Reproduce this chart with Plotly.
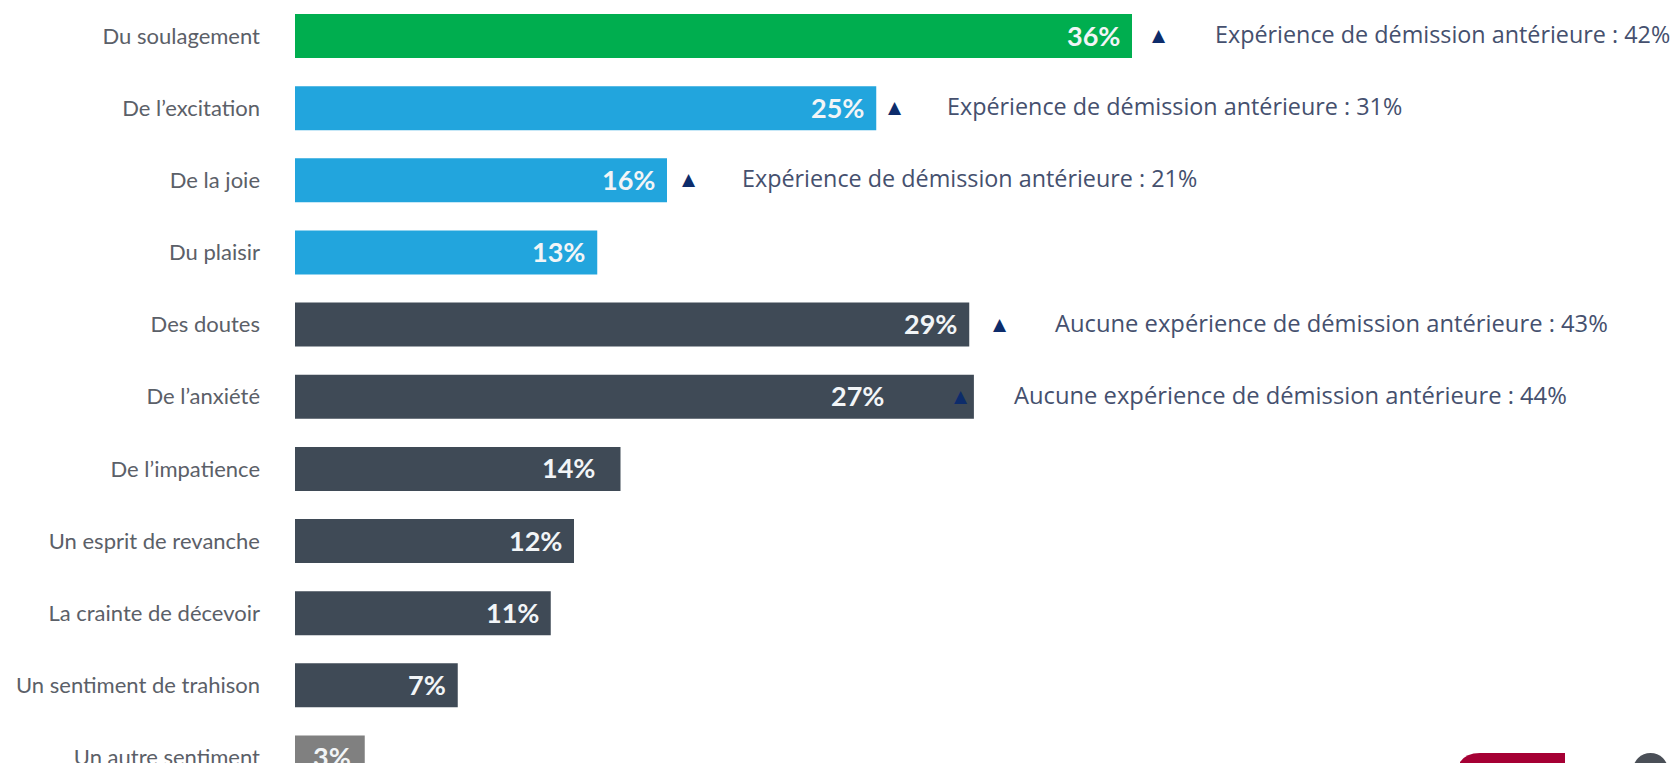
import plotly.graph_objects as go

categories = ["Du soulagement", "De l’excitation", "De la joie", "Du plaisir", "Des doutes",
              "De l’anxiété", "De l’impatience", "Un esprit de revanche", "La crainte de décevoir",
              "Un sentiment de trahison", "Un autre sentiment"]
shares = [36, 25, 16, 13, 29, 27, 14, 12, 11, 7, 3]
# The 27% bar is drawn longer than its label in the reference.
drawn_lengths = [36, 25, 16, 13, 29, 29.2, 14, 12, 11, 7, 3]
bar_colors = ["#00ae4f"] + ["#22a5dd"] * 3 + ["#3f4a56"] * 6 + ["#808080"]

note_rows = ["Du soulagement", "De l’excitation", "De la joie", "Des doutes", "De l’anxiété"]
note_texts = ["Expérience de démission antérieure : 42%",
              "Expérience de démission antérieure : 31%",
              "Expérience de démission antérieure : 21%",
              "Aucune expérience de démission antérieure : 43%",
              "Aucune expérience de démission antérieure : 44%"]
triangle_shift = [27, 19, 22, 31, -13]
note_shift = [81, 69, 73, 84, 38]
note_size = [23.35, 23.35, 23.35, 23.75, 23.75]
label_pad = {"De l’anxiété": 88, "De l’impatience": 24, "Un autre sentiment": 12}

PX_PER_UNIT = 23.25
LEFT = 295
W, H = 1674, 763
ROW = 72.15
TOP = 36


def px(x):
    return (x - LEFT) / (W - LEFT)


def py(y):
    return 1 - y / H


fig = go.Figure(go.Bar(
    x=drawn_lengths, y=categories, orientation="h", width=0.61,
    marker=dict(color=bar_colors, line_width=0), hoverinfo="skip",
))

annotations = []
for cat, share, length in zip(categories, shares, drawn_lengths):
    annotations.append(dict(
        x=length, y=cat, xref="x", yref="y", text=f"<b>{share}%</b>", showarrow=False,
        xanchor="right", xshift=-label_pad.get(cat, 10), yshift=1,
        font=dict(family="Lato", size=27, color="#f2f5f7"),
    ))
for cat, txt, ts, ns, fs in zip(note_rows, note_texts, triangle_shift, note_shift, note_size):
    length = drawn_lengths[categories.index(cat)]
    annotations.append(dict(
        x=length, y=cat, xref="x", yref="y", text="▲", showarrow=False,
        xanchor="center", xshift=ts, yshift=1,
        font=dict(family="DejaVu Sans", size=17, color="#0d2c6b"),
    ))
    annotations.append(dict(
        x=length, y=cat, xref="x", yref="y", text=txt, showarrow=False,
        xanchor="left", xshift=ns, yshift=2,
        font=dict(family="Open Sans", size=fs, color="#45506e"),
    ))

shapes = [
    dict(type="path", xref="paper", yref="paper", line_width=0, fillcolor="#a50034",
         path=f"M {px(1460)} {py(770)} L {px(1460)} {py(762)} Q {px(1466)} {py(753)} {px(1480)} {py(753)} "
              f"L {px(1565)} {py(753)} L {px(1565)} {py(770)} Z"),
    dict(type="circle", xref="paper", yref="paper", line_width=0, fillcolor="#4a4f57",
         x0=px(1633), x1=px(1668), y0=py(787), y1=py(753)),
]

fig.update_layout(
    width=W, height=H, margin=dict(l=LEFT, r=0, t=0, b=0, autoexpand=False),
    paper_bgcolor="white", plot_bgcolor="white", showlegend=False,
    annotations=annotations, shapes=shapes,
    xaxis=dict(range=[0, (W - LEFT) / PX_PER_UNIT], visible=False, fixedrange=True, automargin=False),
    yaxis=dict(
        type="category", categoryorder="array", categoryarray=categories,
        range=[(H - TOP) / ROW, -TOP / ROW], automargin=False,
        showgrid=False, zeroline=False, showline=False, ticks="",
        ticklabelstandoff=34, fixedrange=True,
        tickfont=dict(family="Lato", size=22, color="#5b6068"),
    ),
)

fig.write_html("out.html", config=dict(displayModeBar=False),
               post_script="document.body.style.margin='0';document.body.style.overflow='hidden';")
